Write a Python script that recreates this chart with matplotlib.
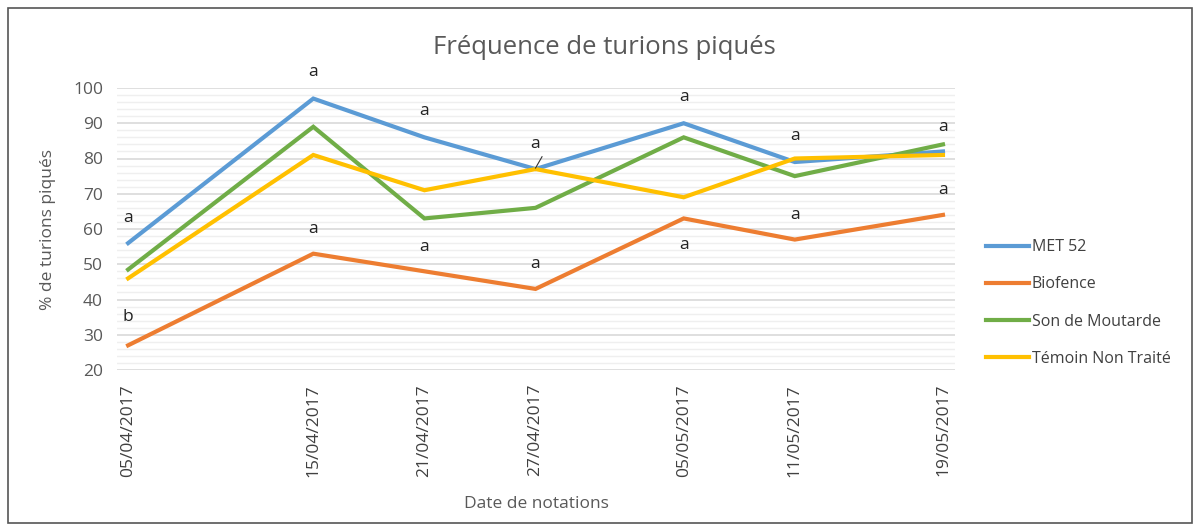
import matplotlib
matplotlib.use("Agg")
import matplotlib.pyplot as plt
import pandas as pd
from matplotlib.patches import Rectangle

plt.rcParams['font.family'] = ['Open Sans', 'DejaVu Sans']

dates = ["05/04/2017", "15/04/2017", "21/04/2017", "27/04/2017",
         "05/05/2017", "11/05/2017", "19/05/2017"]
met52 = [56, 97, 86, 77, 90, 79, 82]
biofence = [27, 53, 48, 43, 63, 57, 64]
moutarde = [48.5, 89, 63, 66, 86, 75, 84]
temoin = [46, 81, 71, 77, 69, 80, 81]
series_names = ["MET 52", "Biofence", "Son de Moutarde", "Témoin Non Traité"]
colors = ["#5B9BD5", "#ED7D31", "#70AD47", "#FFC000"]

# significance letters: (date index, y position, letter)
letters_upper = [(0, 63, "a"), (1, 104.5, "a"), (2, 93.5, "a"), (3, 84, "a"),
                 (4, 97.5, "a"), (5, 86.4, "a"), (6, 89, "a")]
letters_lower = [(0, 35, "b"), (1, 60, "a"), (2, 55, "a"), (3, 50, "a"),
                 (4, 55.5, "a"), (5, 64, "a"), (6, 71, "a")]

x = pd.to_datetime(dates, format="%d/%m/%Y")

fig = plt.figure(figsize=(12, 5.31), dpi=100)
ax = fig.add_axes([117/1200, 1-370/531, (955-117)/1200, (370-88)/531])

for vals, name, c in zip([met52, biofence, moutarde, temoin], series_names, colors):
    ax.plot(x, vals, color=c, lw=3, label=name, solid_joinstyle='miter')

ax.set_ylim(20, 100)
ax.set_xlim(x[0] - pd.Timedelta(days=0.6), x[-1] + pd.Timedelta(days=0.65))
ax.set_yticks(range(20, 101, 10))
ax.set_yticks(range(20, 101, 2), minor=True)
ax.set_xticks(x)
ax.set_xticklabels(dates, rotation=90, fontsize=12.5, color="#404040")
ax.tick_params(axis='y', labelsize=12.5, labelcolor="#595959", length=0, which='both', pad=10)
ax.tick_params(axis='x', length=0, pad=10)
ax.grid(True, which='major', axis='y', color="#D9D9D9", lw=1.2)
ax.grid(True, which='minor', axis='y', color="#EFEFEF", lw=1)
ax.set_axisbelow(True)
for s in ax.spines.values():
    s.set_visible(False)

for i, yv, t in letters_upper + letters_lower:
    ax.text(x[i], yv, t, ha='center', va='center', fontsize=12.5, color="#222222", clip_on=False)

# leader line at 27/04
ax.plot([x[3], x[3] + pd.Timedelta(days=0.35)], [77.3, 80.5], color="#333333", lw=0.8)

ax.set_ylabel("% de turions piqués", fontsize=12.5, color="#595959", labelpad=12)
ax.set_xlabel("Date de notations", fontsize=12.5, color="#595959", labelpad=14)

fig.text(0.504, 1-47/531, "Fréquence de turions piqués", ha='center', va='center',
         fontsize=18.5, color="#595959")

leg = ax.legend(loc='upper left', bbox_to_anchor=(1.02, 0.515), frameon=False,
                fontsize=11.5, labelspacing=1.33, handlelength=2.7, handletextpad=0.15,
                labelcolor="#404040")

fig.patches.append(Rectangle((8/1200, 8/531), 1-16/1200, 1-16/531, transform=fig.transFigure,
                             fill=False, edgecolor="#555555", lw=1.2))

fig.savefig("out.png", dpi=100)
